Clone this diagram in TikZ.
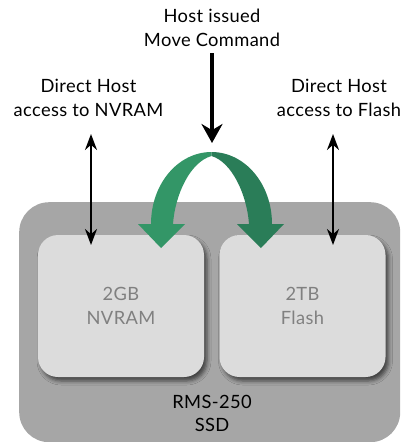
\documentclass[tikz,border=0pt]{standalone}
\usepackage{fontspec}
\setmainfont{Lato}[LetterSpace=2]
\usetikzlibrary{arrows.meta,shadows.blur}
\definecolor{ssdgray}{HTML}{A6A6A6}
\definecolor{chipgray}{HTML}{DCDCDC}
\definecolor{chiptext}{HTML}{808080}
\definecolor{movelight}{HTML}{339667}
\definecolor{movedark}{HTML}{2A7D58}
\tikzset{
  basefont/.style={font=\fontsize{18.3}{23.5}\selectfont},
  caption/.style={basefont, align=center, inner sep=0pt, text=black},
  ssdbox/.style={fill=ssdgray, rounded corners=30pt, minimum width=381pt,
    minimum height=240pt, inner sep=0pt, anchor=north west},
  chip/.style={fill=chipgray, rounded corners=20pt, minimum width=166pt,
    minimum height=142pt, inner sep=0pt, align=center, basefont, text=chiptext,
    blur shadow={shadow xshift=3pt, shadow yshift=-4pt, shadow blur radius=4pt,
      shadow opacity=60}},
  access/.style={line width=2pt, {Stealth[length=16pt,width=12pt]}-{Stealth[length=16pt,width=12pt]}},
  command/.style={line width=3.5pt, -{Stealth[length=19pt,width=21pt]}},
}
\begin{document}
\begin{tikzpicture}[x=1pt,y=-1pt]
\useasboundingbox (0,0) rectangle (402,442);

% SSD enclosure and its two memories
\node[ssdbox] (ssd) at (19,202) {};
\node[chip] (nvram) at (121,306) {2GB\\NVRAM};
\node[chip] (flash) at (302.5,306) {2TB\\Flash};
\node[caption] (ssdlabel) at (212,413.5) {RMS-250\\SSD};

% captions above
\node[caption] (cmdtext) at (212,28) {Host issued\\Move Command};
\node[caption] (nvtext) at (88.5,98) {Direct Host\\access to NVRAM};
\node[caption] (fltext) at (339,98) {Direct Host\\access to Flash};

% host access arrows
\coordinate (nvtop) at (91,134);
\coordinate (nvbot) at (91,245);
\coordinate (fltop) at (333,134);
\coordinate (flbot) at (333,245);
\draw[access] (nvtop) -- (nvbot);
\draw[access] (fltop) -- (flbot);

% move command arrow
\coordinate (cmdstart) at (212,53);
\coordinate (cmdend) at (212,143);
\draw[command] (cmdstart) -- (cmdend);

% curved move arrows between the memories
\fill[movelight] (211.5,152) .. controls (178,152) and (151,184) .. (151,224)
  -- (138,224) -- (161,248) -- (185,224) -- (173,224)
  .. controls (175,195) and (190,162) .. (211.5,156) -- cycle;
\fill[movedark] (211.5,152) .. controls (245,152) and (272,184) .. (272,224)
  -- (284,224) -- (261,248) -- (237,224) -- (249,224)
  .. controls (247,195) and (232,162) .. (211.5,156) -- cycle;
\end{tikzpicture}
\end{document}
